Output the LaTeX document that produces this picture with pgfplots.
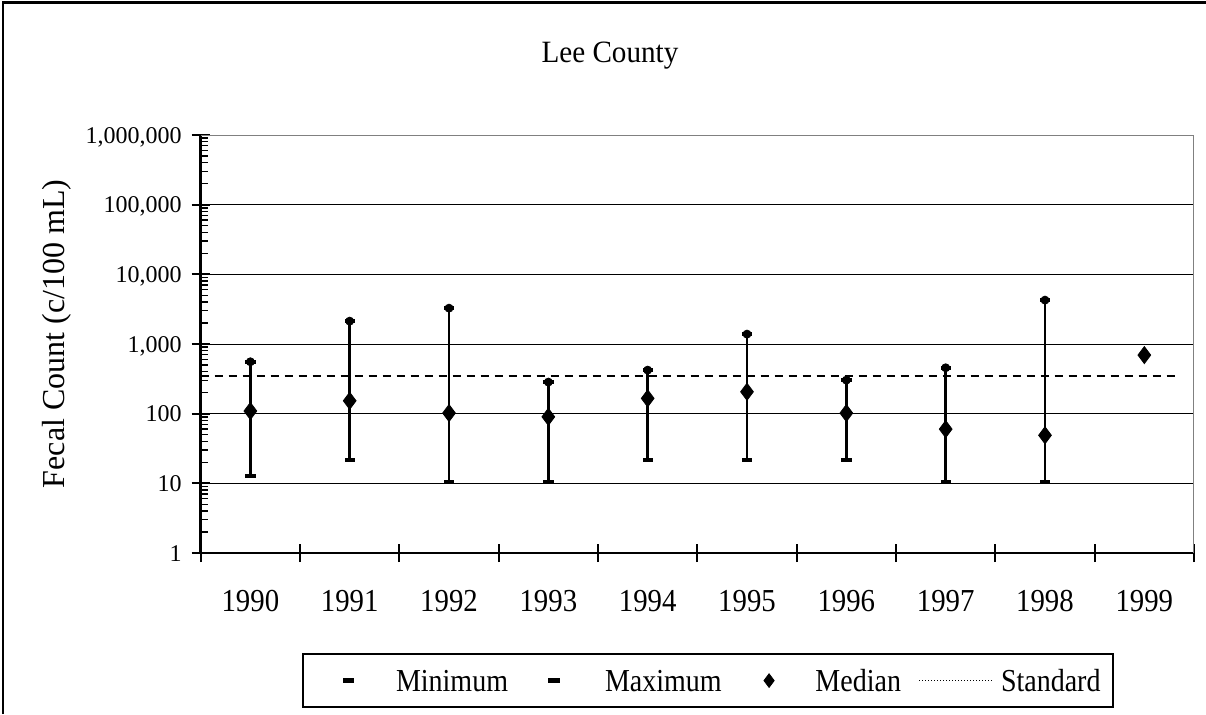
\documentclass[border=0pt]{standalone}
\usepackage{pgfplots}
\pgfplotsset{compat=1.18}
\usepackage{pgfplotstable}
\usepackage{fontspec}
\setmainfont{Liberation Serif}
\newfontfamily\legfont[FakeStretch=0.875]{Liberation Serif}
\newfontfamily\tickfont[FakeStretch=0.9]{Liberation Serif}
\newfontfamily\titlefont[FakeStretch=0.94]{Liberation Serif}

\pgfplotstableread{
x min max med
0 12.9 556 109
1 21.6 2130 153
2 10.5 3270 102
3 10.5 284 90
4 21.6 422 166
5 21.6 1387 206
6 21.6 303 102
7 10.5 456 60
8 10.5 4266 49
9 693 693 693
}\feccount

\pgfplotstableread{
x std
-0.5 350
9.31 350
}\standard

\pgfplotsset{
  capmark/.style={only marks, mark=square*, mark size=2.3pt, mark options={yscale=0.3, fill=black, draw=none}},
  minlegend/.style={legend image code/.code={\path (-16.5pt,0pt) (23.2pt,0pt); \draw[##1] plot coordinates {(0pt,0pt)};}},
  maxlegend/.style={legend image code/.code={\path (-22.5pt,0pt) (25pt,0pt); \draw[##1] plot coordinates {(0pt,0pt)};}},
  medlegend/.style={legend image code/.code={\path (-23.2pt,0pt) (22.7pt,0pt); \draw[##1, mark size=3.4pt] plot coordinates {(0pt,0pt)};}},
  stdlegend/.style={legend image code/.code={\path (-8.5pt,0pt) (40.5pt,0pt); \draw[black, line width=0.5pt, densely dotted] (0pt,0pt) -- (36.5pt,0pt);}},
}

\begin{document}
\begin{tikzpicture}
\useasboundingbox (0,0) rectangle (603pt,357pt);
\draw[black, line width=1.2pt] (1.5pt,0) -- (1.5pt,355.8pt) -- (603pt,355.8pt);
\node[font=\titlefont\fontsize{15.5}{18}\selectfont, anchor=base, inner sep=0pt] at (305pt,325.5pt) {Lee County};
\begin{axis}[
  at={(100.35pt,80.5pt)}, anchor=south west,
  scale only axis, width=496.65pt, height=209pt,
  ymode=log, ymin=1, ymax=1000000,
  xmin=-0.5, xmax=9.5,
  axis lines*=left,
  axis line style={black, line width=1.3pt},
  xtick={-0.5,0.5,1.5,2.5,3.5,4.5,5.5,6.5,7.5,8.5,9.5},
  xticklabels={1990,1991,1992,1993,1994,1995,1996,1997,1998,1999},
  x tick label as interval,
  ytick={1,10,100,1000,10000,100000,1000000},
  yticklabels={1,10,100,{1,000},{10,000},{100,000},{1,000,000}},
  minor ytick={2,3,4,5,6,7,8,9,20,30,40,50,60,70,80,90,200,300,400,500,600,700,800,900,2000,3000,4000,5000,6000,7000,8000,9000,20000,30000,40000,50000,60000,70000,80000,90000,200000,300000,400000,500000,600000,700000,800000,900000},
  ymajorgrids,
  major grid style={black, line width=0.5pt},
  tick align=center,
  major tick length=9pt,
  minor tick length=3.8pt,
  every major tick/.append style={black, line width=1.1pt},
  every minor tick/.append style={black, line width=0.7pt, xshift=1.9pt},
  yticklabel style={font=\fontsize{12}{14}\selectfont, anchor=east, inner sep=0pt, xshift=-4.85pt, text height=8.1pt, text depth=0pt},
  xticklabel style={font=\tickfont\fontsize{16}{18}\selectfont, anchor=base, inner sep=0pt, yshift=-24.8pt},
  ylabel={Fecal Count (c/100 mL)},
  ylabel style={font=\fontsize{16}{19}\selectfont, at={(axis description cs:-0.1447,0.524)}, anchor=center},
  legend columns=4,
  legend style={at={(axis description cs:0.1016,-0.3715)}, anchor=south west, draw=black, line width=1pt, inner xsep=6pt, inner ysep=7.95pt, font=\legfont\fontsize{16}{18}\selectfont, nodes={inner sep=0pt, text height=10.8pt, text depth=0pt}},
]
\addplot[forget plot, only marks, mark=none, error bars/.cd, y dir=minus, y explicit, error mark=none, error bar style={black, line width=1.35pt}] table[x=x, y=max, y error expr=\thisrow{max}-\thisrow{min}] {\feccount};

\addplot[black, capmark, minlegend]
  table[x=x, y=min] {\feccount};
\addlegendentry{Minimum}

\addplot[black, capmark, maxlegend]
  table[x=x, y=max] {\feccount};
\addlegendentry{Maximum}

\addplot[black, only marks, mark=diamond*, mark size=4.25pt, mark options={fill=black, line width=0.4pt}, medlegend]
  table[x=x, y=med] {\feccount};
\addlegendentry{Median}

\addplot[black, line width=1pt, dash pattern=on 4pt off 3pt, stdlegend]
  table[x=x, y=std] {\standard};
\addlegendentry{Standard}

\draw[gray, line width=1pt] (rel axis cs:0,1) -- (rel axis cs:1,1) -- (rel axis cs:1,0);
\end{axis}
\end{tikzpicture}
\end{document}
